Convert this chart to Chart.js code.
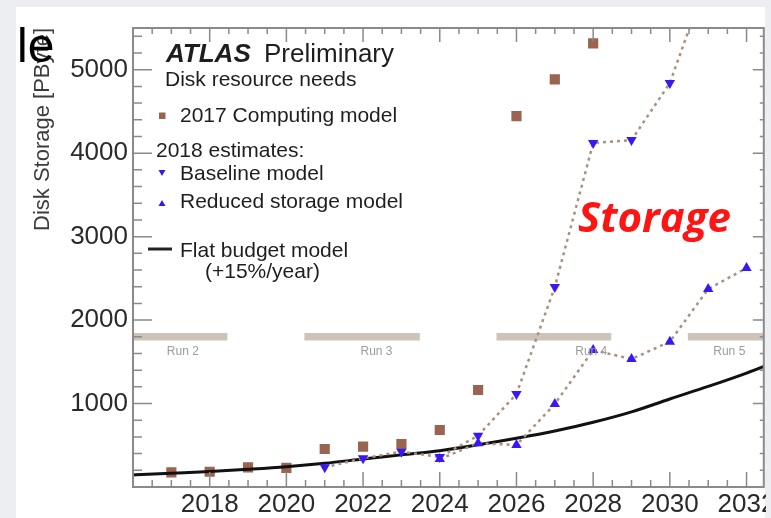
<!DOCTYPE html>
<html>
<head>
<meta charset="utf-8">
<title>ATLAS disk resource needs</title>
<script src="https://cdn.jsdelivr.net/npm/chart.js@4.4.1/dist/chart.umd.min.js"></script>
<style>
  html, body { margin: 0; padding: 0; }
  body {
    width: 771px; height: 518px; position: relative; overflow: hidden;
    background: #eceef1;
    font-family: "Liberation Sans", Arial, sans-serif;
  }
  #panel { position: absolute; left: 16px; top: 7px; width: 749px; height: 511px; background: #ffffff; }
  #chart { position: absolute; left: 0; top: 0; }
  #edge { position: absolute; left: 766px; top: 0; width: 5px; height: 518px; background: #eceef1; }
  #notes { position: absolute; left: 0; top: 0; }
</style>
</head>
<body>
<div id="panel"></div>
<canvas id="chart" width="771" height="518"></canvas>
<div id="edge"></div>
<svg id="notes" width="771" height="518" xmlns="http://www.w3.org/2000/svg"
     font-family="Liberation Sans, Arial, sans-serif" fill="#1e1e1e">
  <text x="17" y="62" font-size="48" fill="#000">le</text>
  <text x="166" y="62" font-size="26" font-weight="bold" font-style="italic">ATLAS</text>
  <text x="264" y="62" font-size="26">Preliminary</text>
  <text x="165" y="86" font-size="21">Disk resource needs</text>
  <rect x="159" y="112.5" width="6.5" height="6.5" fill="#9a6450"/>
  <text x="180" y="122" font-size="21">2017 Computing model</text>
  <text x="156" y="157" font-size="21">2018 estimates:</text>
  <polygon points="158.5,170 165.5,170 162,176" fill="#3a18f5"/>
  <text x="180" y="180" font-size="21">Baseline model</text>
  <polygon points="158.5,206 165.5,206 162,200" fill="#3a18f5"/>
  <text x="180" y="208" font-size="21">Reduced storage model</text>
  <line x1="148" y1="249" x2="172" y2="249" stroke="#222" stroke-width="3"/>
  <text x="180" y="257" font-size="21">Flat budget model</text>
  <text x="205" y="278" font-size="21">(+15%/year)</text>
  <text x="578" y="232" font-size="42" font-family="Open Sans, sans-serif" font-weight="bold" font-style="italic" fill="#ff1414">Storage</text>
</svg>
<script>
// Axis tick labels
const xTickYears = [2018, 2020, 2022, 2024, 2026, 2028, 2030, 2032];
const yTickValues = [1000, 2000, 3000, 4000, 5000];

// 2017 Computing model (PB)
const model2017Years = [2017, 2018, 2019, 2020, 2021, 2022, 2023, 2024, 2025, 2026, 2027, 2028];
const model2017 = [176, 183, 236, 230, 455, 483, 515, 683, 1162, 4445, 4884, 5315];

// 2018 estimates: baseline model (PB)
const baselineYears = [2021, 2022, 2023, 2024, 2025, 2026, 2027, 2028, 2029, 2030, 2031];
const baseline = [236, 344, 423, 360, 615, 1114, 2396, 4121, 4157, 4840, 6130];

// 2018 estimates: reduced storage model (PB)
const reducedYears = [2024, 2025, 2026, 2027, 2028, 2029, 2030, 2031, 2032];
const reduced = [335, 525, 503, 994, 1641, 1533, 1741, 2372, 2624];

// Flat budget model, +15%/year (PB)
const flatYears = [2016, 2017, 2018, 2019, 2020, 2021, 2022, 2023, 2024, 2025, 2026, 2027, 2028, 2029, 2030, 2031, 2032, 2033];
const flatBudget = [145, 165, 185, 212, 243, 284, 335, 385, 435, 505, 583, 670, 775, 900, 1055, 1205, 1365, 1545];

// LHC run periods
const runNames = ['Run 2', 'Run 3', 'Run 4', 'Run 5'];
const runStart = [2016, 2020.47, 2025.48, 2030.47];
const runEnd = [2018.46, 2023.48, 2028.47, 2032.45];
const runLabelYears = [2017.3, 2022.35, 2027.95, 2031.55];
const runLevel = 1800;

const X_MIN = 2016, X_MAX = 2032.45, Y_MIN = 0, Y_MAX = 5500;
const X_MINOR = 0.5, X_MAJOR = 2, Y_MINOR = 200, Y_MAJOR = 1000;

const pts = (xs, ys) => xs.map((x, i) => ({ x, y: ys[i] }));
const BLUE = '#3a18f5', BROWN = '#9a6450', DOTS = '#a8917f';

Chart.defaults.font.family = '"Liberation Sans", Arial, sans-serif';

const runDatasets = runNames.map((name, i) => ({
  label: name,
  data: [{ x: runStart[i], y: runLevel }, { x: runEnd[i], y: runLevel }],
  borderColor: '#ccc3b9',
  borderWidth: 7.5,
  borderCapStyle: 'butt',
  pointRadius: 0,
  order: 10
}));

// Axis frame with inward ticks on all four sides, plus run captions
const frameTicks = {
  id: 'frameTicks',
  afterDatasetsDraw(chart) {
    const { ctx, chartArea: a, scales: { x, y } } = chart;
    ctx.save();
    ctx.fillStyle = '#9c9c9c';
    ctx.font = '12px "Liberation Sans", Arial, sans-serif';
    ctx.textAlign = 'center';
    ctx.textBaseline = 'middle';
    const ry = y.getPixelForValue(runLevel) + 15;
    runNames.forEach((n, i) => ctx.fillText(n, x.getPixelForValue(runLabelYears[i]), ry));

    ctx.strokeStyle = '#8a8a8a';
    ctx.lineWidth = 2;
    ctx.strokeRect(a.left, a.top, a.right - a.left, a.bottom - a.top);
    ctx.lineWidth = 1.5;
    ctx.beginPath();
    for (let v = X_MIN; v <= X_MAX + 1e-6; v += X_MINOR) {
      const px = x.getPixelForValue(v);
      const major = Math.abs(v % X_MAJOR) < 1e-6;
      ctx.moveTo(px, a.bottom); ctx.lineTo(px, a.bottom - (major ? 15 : 7));
      ctx.moveTo(px, a.top); ctx.lineTo(px, a.top + (major ? 14 : 6));
    }
    for (let v = Y_MIN; v <= Y_MAX + 1e-6; v += Y_MINOR) {
      const py = y.getPixelForValue(v);
      const major = Math.abs(v % Y_MAJOR) < 1e-6;
      ctx.moveTo(a.left, py); ctx.lineTo(a.left + (major ? 19 : 9), py);
      ctx.moveTo(a.right, py); ctx.lineTo(a.right - (major ? 11 : 4), py);
    }
    ctx.stroke();
    ctx.restore();
  }
};

new Chart(document.getElementById('chart'), {
  type: 'line',
  data: {
    datasets: [
      {
        label: '2017 Computing model',
        data: pts(model2017Years, model2017),
        showLine: false,
        pointStyle: 'rect',
        pointRadius: 7.2,
        pointBackgroundColor: BROWN,
        pointBorderWidth: 0,
        order: 4
      },
      {
        label: 'Flat budget model',
        data: pts(flatYears, flatBudget),
        borderColor: '#111111',
        borderWidth: 3,
        pointRadius: 0,
        cubicInterpolationMode: 'monotone',
        order: 3
      },
      {
        label: 'Baseline model',
        data: pts(baselineYears, baseline),
        borderColor: DOTS,
        borderWidth: 2.5,
        borderDash: [3, 4],
        pointStyle: 'triangle',
        pointRotation: 180,
        pointRadius: 6,
        pointBackgroundColor: BLUE,
        pointBorderWidth: 0,
        order: 2
      },
      {
        label: 'Reduced storage model',
        data: pts(reducedYears, reduced),
        borderColor: DOTS,
        borderWidth: 2.5,
        borderDash: [3, 4],
        pointStyle: 'triangle',
        pointRadius: 6,
        pointBackgroundColor: BLUE,
        pointBorderWidth: 0,
        order: 1
      },
      ...runDatasets
    ]
  },
  options: {
    responsive: false,
    animation: false,
    events: [],
    layout: { padding: { top: 28, right: 6, left: 0, bottom: 0 } },
    plugins: { legend: { display: false }, tooltip: { enabled: false } },
    scales: {
      x: {
        type: 'linear',
        min: X_MIN, max: X_MAX,
        grid: { display: false, drawTicks: false },
        border: { display: false },
        ticks: {
          color: '#2a2a2a', font: { size: 26 }, padding: 2, maxRotation: 0, autoSkip: false,
          callback: v => String(v)
        },
        afterBuildTicks: s => { s.ticks = xTickYears.map(v => ({ value: v })); },
        afterFit: s => { s.height = 31; s.paddingLeft = 0; s.paddingRight = 0; }
      },
      y: {
        type: 'linear',
        min: Y_MIN, max: Y_MAX,
        grid: { display: false, drawTicks: false },
        border: { display: false },
        ticks: { color: '#2a2a2a', font: { size: 26 }, padding: 5, callback: v => String(v) },
        afterBuildTicks: s => { s.ticks = yTickValues.map(v => ({ value: v })); },
        afterFit: s => { s.width = 133; s.paddingTop = 0; s.paddingBottom = 0; },
        title: {
          display: true,
          text: 'Disk Storage [PByte]',
          align: 'end',
          color: '#3c3c3c',
          font: { size: 22 },
          padding: { top: 30, bottom: 0 }
        }
      }
    }
  },
  plugins: [frameTicks]
});
</script>
</body>
</html>
